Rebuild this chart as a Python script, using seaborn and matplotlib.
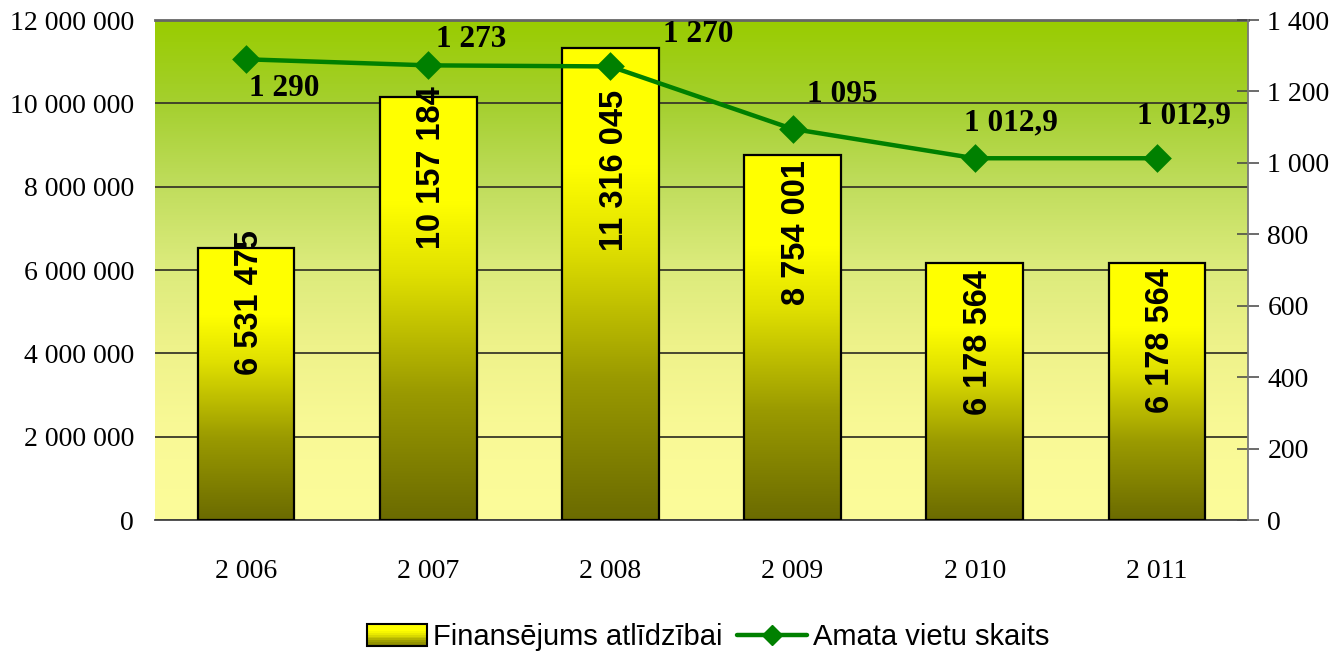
import numpy as np
import pandas as pd
import matplotlib
matplotlib.use("Agg")
import matplotlib.pyplot as plt
from matplotlib.colors import LinearSegmentedColormap
from matplotlib.ticker import FuncFormatter, MultipleLocator
from matplotlib.lines import Line2D
from matplotlib.patches import Rectangle
from matplotlib.legend_handler import HandlerBase
from matplotlib import font_manager
import seaborn as sns

# ---------------- data ----------------
years = [2006, 2007, 2008, 2009, 2010, 2011]
funding = [6531475, 10157184, 11316045, 8754001, 6178564, 6178564]
positions = [1290, 1273, 1270, 1095, 1012.9, 1012.9]
bar_series_name = "Finansējums atlīdzībai"
line_series_name = "Amata vietu skaits"

# label placement (styling, not data)
bar_label_centers = [5.21e6, 8.45e6, 8.38e6, 6.89e6, 4.25e6, 4.30e6]
line_label_offsets_px = [(38, -29), (43, 26), (88, 32), (50, 34), (36, 35), (27, 42)]

def sp(v, dec=0):
    s = f"{v:,.{dec}f}".replace(",", " ")
    if dec:
        s = s.replace(".", ",")
    return s

sns.set_theme(style="white")
avail = {f.name for f in font_manager.fontManager.ttflist}
serif = "Liberation Serif"
sans = "Liberation Sans"
narrow = "Liberation Sans Narrow" if "Liberation Sans Narrow" in avail else "Liberation Sans"
plt.rcParams["font.family"] = [serif, "DejaVu Sans"]
plt.rcParams["text.color"] = "black"
plt.rcParams["xtick.color"] = "black"
plt.rcParams["ytick.color"] = "black"
plt.rcParams["xtick.labelcolor"] = "black"
plt.rcParams["ytick.labelcolor"] = "black"

DPI = 100
W, H = 1337, 655
fig = plt.figure(figsize=(W / DPI, H / DPI), dpi=DPI, facecolor="white")
L, R, T, B = 155, 1248, 20, 520
ax = fig.add_axes([L / W, 1 - B / H, (R - L) / W, (B - T) / H])

df = pd.DataFrame({"year": [sp(y) for y in years], "funding": funding})

sns.barplot(data=df, x="year", y="funding", ax=ax, width=0.53,
            color="yellow", edgecolor="black", linewidth=1.6, zorder=3)
ax.set_ylim(0, 12e6)
ax.set_xlim(-0.5, len(years) - 0.5)

# background gradient
bg_cmap = LinearSegmentedColormap.from_list(
    "bg", [(0.0, "#FCFC9A"), (0.18, "#F9F996"), (0.35, "#EEF28A"),
           (0.52, "#DAEA7A"), (0.68, "#BEDC5A"), (0.83, "#A5D030"), (1.0, "#99CC00")])
grad = np.linspace(0, 1, 256).reshape(-1, 1)
ax.imshow(grad, cmap=bg_cmap, origin="lower", aspect="auto",
          extent=[0, 1, 0, 1], transform=ax.transAxes, zorder=0)

# bar gradient
bar_cmap = LinearSegmentedColormap.from_list(
    "bar", [(0.0, "#6B6B00"), (0.3, "#9A9A00"), (0.58, "#E0E000"), (0.75, "#FFFF00"), (1.0, "#FFFF00")])
for p in ax.patches:
    x0, y0 = p.get_x(), p.get_y()
    w, h = p.get_width(), p.get_height()
    im = ax.imshow(grad, cmap=bar_cmap, origin="lower", aspect="auto",
                   extent=[x0, x0 + w, y0, y0 + h], zorder=3.5)
    im.set_clip_path(p)
    p.set_facecolor("none")
    p.set_zorder(4)
ax.set_xlim(-0.5, len(years) - 0.5)
ax.set_ylim(0, 12e6)

# grid
ax.yaxis.set_major_locator(MultipleLocator(2e6))
ax.grid(axis="y", color="#3a3a28", linewidth=1.3, zorder=1)
ax.grid(axis="x", visible=False)
ax.set_axisbelow(True)
for gl in ax.get_ygridlines():
    gl.set_zorder(1)

# bar labels
for i, (v, c) in enumerate(zip(funding, bar_label_centers)):
    ax.text(i + 0.02, c, sp(v), rotation=90, ha="center", va="center",
            fontsize=23.5, fontweight="bold", family=[sans], color="black", zorder=6)

ax.yaxis.set_major_formatter(FuncFormatter(lambda v, _: sp(v)))
ax.tick_params(axis="y", which="both", length=0, labelsize=20, pad=15, labelcolor="black")
ax.set_xlabel("")
ax.set_ylabel("")
ax.set_xticks(range(len(years)))
ax.set_xticklabels([sp(y) for y in years], fontsize=20)
ax.tick_params(axis="x", length=0, pad=28, labelcolor="black")
ax.set_xticks(np.arange(-0.5, len(years)), minor=True)
ax.tick_params(axis="x", which="minor", direction="inout", length=18, width=1.2, color="black")

ax.spines["left"].set_visible(False)
ax.spines["bottom"].set_color("#444444")
ax.spines["bottom"].set_linewidth(1.3)
ax.spines["top"].set_color("#666666")
ax.spines["top"].set_linewidth(2)
ax.spines["right"].set_visible(False)

# line on twin axis
ax2 = ax.twinx()
dfl = pd.DataFrame({"year": [sp(y) for y in years], "positions": positions})
sns.pointplot(data=dfl, x="year", y="positions", ax=ax2, color="#008000",
              markers="D", linestyles="-", markersize=12, linewidth=3.2, errorbar=None)
ax2.set_ylim(0, 1400)
ax2.set_xlim(-0.5, len(years) - 0.5)
ax2.yaxis.set_major_locator(MultipleLocator(200))
ax2.yaxis.set_major_formatter(FuncFormatter(lambda v, _: sp(v)))
ax2.tick_params(axis="y", direction="inout", length=16, width=1.1, color="#444444",
                labelsize=20, pad=6, labelcolor="black")
ax2.set_ylabel("")
ax2.set_xlabel("")
ax2.grid(False)
for s in ["left", "top", "bottom"]:
    ax2.spines[s].set_visible(False)
ax2.spines["right"].set_visible(True)
ax2.spines["right"].set_color("#777777")
ax2.spines["right"].set_linewidth(1.3)

for i, (v, (dx, dy)) in enumerate(zip(positions, line_label_offsets_px)):
    txt = sp(v, 1) if v % 1 else sp(v)
    ax2.annotate(txt, (i, v), xytext=(dx * 72 / DPI, dy * 72 / DPI), textcoords="offset points",
                 ha="center", va="center", fontsize=22.5, fontweight="bold",
                 family=[serif], color="black", zorder=7)

# legend
class GradHandle:
    pass

class HandlerGrad(HandlerBase):
    def create_artists(self, legend, orig, xdescent, ydescent, width, height, fontsize, trans):
        arts = []
        n = 12
        w = width * 0.85
        x = -xdescent + (width - w)
        for k in range(n):
            c = bar_cmap(1 - k / n * 0.9)
            arts.append(Rectangle((x, -ydescent + height * (1 - (k + 1) / n)), w, height / n,
                                  facecolor=c, edgecolor="none", transform=trans))
        arts.append(Rectangle((x, -ydescent), w, height, facecolor="none",
                              edgecolor="black", linewidth=1.5, transform=trans))
        return arts

line_handle = Line2D([0], [0], color="#008000", linewidth=3.2, marker="D", markersize=10)
leg = fig.legend([GradHandle(), line_handle], [bar_series_name, line_series_name],
                 handler_map={GradHandle: HandlerGrad()}, loc="center",
                 bbox_to_anchor=(703 / W, 1 - 637 / H), ncol=2, frameon=False,
                 prop={"family": [narrow], "size": 21}, handlelength=2.4, handleheight=0.75,
                 handletextpad=0.2, columnspacing=0.5, labelcolor="black")

fig.savefig("out.png", dpi=DPI, facecolor="white")
